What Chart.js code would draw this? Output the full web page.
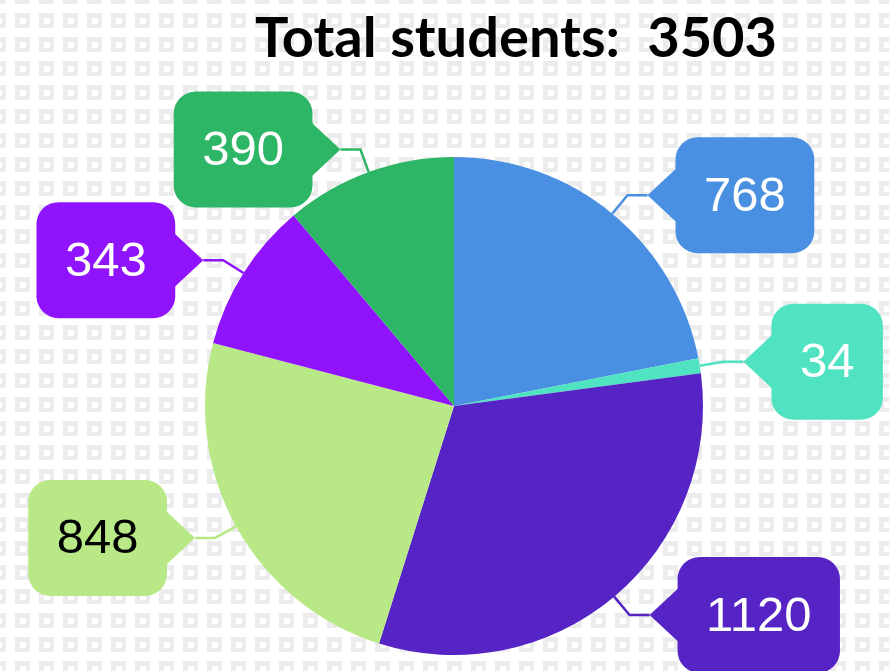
<!DOCTYPE html>
<html lang="en">

<head>
  <meta charset="UTF-8">
  <title>Total students</title>
  <style>
    html, body { margin: 0; padding: 0; background: #ffffff; }
    #pieChart { display: block; }
  </style>
</head>

<body>

  <canvas id="pieChart" width="889" height="671"></canvas>

  <script src="https://cdn.jsdelivr.net/npm/chart.js@4/dist/chart.umd.min.js"></script>

  <script>
    // data (clockwise from 12 o'clock)
    const segmentValues = [768, 34, 1120, 848, 343, 390];
    const segmentColors = ["#4A90E2", "#50E3C2", "#5624C4", "#B8E986", "#9013FE", "#2DB665"];
    const labelTextColors = ["#ffffff", "#ffffff", "#ffffff", "#000000", "#ffffff", "#ffffff"];
    const titlePrefix = "Total students:  ";

    const total = segmentValues.reduce((a, b) => a + b, 0);

    // grey square pattern behind everything
    const backgroundPattern = {
      id: "backgroundPattern",
      beforeDraw(chart) {
        const ctx = chart.ctx;
        ctx.save();
        ctx.fillStyle = "#ffffff";
        ctx.fillRect(0, 0, chart.width, chart.height);
        for (let y = -11; y < chart.height; y += 24) {
          for (let x = -9; x < chart.width; x += 24) {
            ctx.fillStyle = "#ececec";
            ctx.fillRect(x, y, 15, 15);
            ctx.fillStyle = "#ffffff";
            ctx.fillRect(x + 5, y + 5, 6, 6);
          }
        }
        ctx.restore();
      }
    };

    // title text on top
    const titleText = {
      id: "titleText",
      afterDraw(chart) {
        const ctx = chart.ctx;
        ctx.save();
        ctx.font = "bold 56px Lato";
        ctx.fillStyle = "#000000";
        ctx.textAlign = "center";
        ctx.textBaseline = "alphabetic";
        ctx.fillText(titlePrefix + total, 516, 57);
        ctx.restore();
      }
    };

    // speech-bubble labels with elbow connectors
    const calloutLabels = {
      id: "calloutLabels",
      afterDatasetsDraw(chart) {
        const ctx = chart.ctx;
        const meta = chart.getDatasetMeta(0);
        ctx.save();
        ctx.font = "49px 'Liberation Sans', Arial, sans-serif";
        meta.data.forEach((arc, i) => {
          const p = arc.getProps(["x", "y", "startAngle", "endAngle", "outerRadius"], true);
          const mid = (p.startAngle + p.endAngle) / 2;
          const cx = Math.cos(mid), cy = Math.sin(mid);
          const px = p.x + cx * p.outerRadius;
          const py = p.y + cy * p.outerRadius;
          const ex = px + cx * 24;
          const ey = py + cy * 24;
          const side = cx >= 0 ? 1 : -1;
          const tipX = ex + side * 20;
          const color = segmentColors[i];

          // connector
          ctx.strokeStyle = color;
          ctx.lineWidth = 2.5;
          ctx.lineJoin = "miter";
          ctx.beginPath();
          ctx.moveTo(px, py);
          ctx.lineTo(ex, ey);
          ctx.lineTo(tipX, ey);
          ctx.stroke();

          // bubble
          const text = String(segmentValues[i]);
          const w = ctx.measureText(text).width + 57;
          const h = 116;
          const edge = tipX + side * 28;
          const left = side > 0 ? edge : edge - w;
          const top = ey - h / 2;
          const r = 22;
          ctx.fillStyle = color;
          ctx.beginPath();
          ctx.roundRect(left, top, w, h, r);
          ctx.fill();
          ctx.beginPath();
          ctx.moveTo(tipX, ey);
          ctx.lineTo(edge + side * 1, ey - 27);
          ctx.lineTo(edge + side * 1, ey + 27);
          ctx.closePath();
          ctx.fill();

          ctx.fillStyle = labelTextColors[i];
          ctx.textAlign = "center";
          ctx.textBaseline = "middle";
          ctx.fillText(text, left + w / 2, ey + 2);
        });
        ctx.restore();
      }
    };

    const ctx = document.getElementById("pieChart").getContext("2d");
    new Chart(ctx, {
      type: "pie",
      data: {
        labels: segmentValues.map(v => String(v)),
        datasets: [{
          data: segmentValues,
          backgroundColor: segmentColors,
          borderWidth: 0,
          hoverOffset: 0,
          offset: 0
        }]
      },
      options: {
        responsive: false,
        animation: false,
        events: [],
        layout: {
          padding: { top: 157, bottom: 16, left: 205, right: 186 }
        },
        plugins: {
          legend: { display: false },
          tooltip: { enabled: false },
          title: { display: false }
        }
      },
      plugins: [backgroundPattern, calloutLabels, titleText]
    });
  </script>

</body>

</html>
